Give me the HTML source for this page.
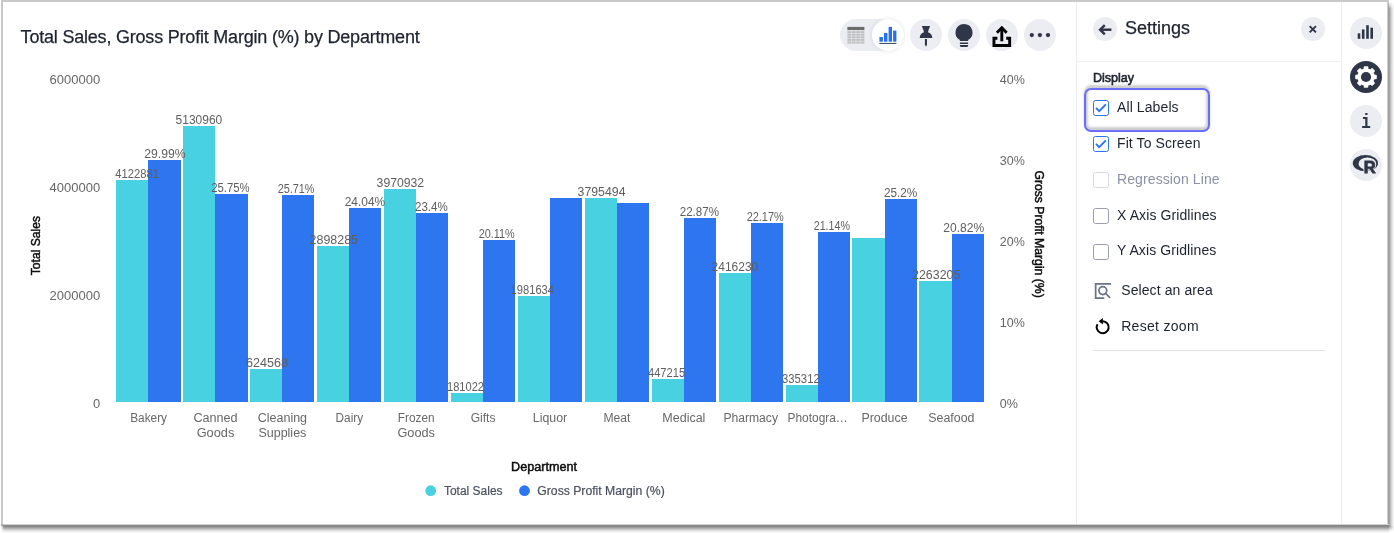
<!DOCTYPE html>
<html lang="en">
<head>
<meta charset="utf-8">
<title>Total Sales, Gross Profit Margin (%) by Department</title>
<style>
*{box-sizing:border-box;margin:0;padding:0}
html,body{width:1394px;height:533px;overflow:hidden;background:#fff}
body{font-family:"Liberation Sans",sans-serif;color:#1d232f;position:relative}
.frame{position:absolute;left:1px;top:0;width:1386px;height:524px;border-left:2px solid #c9c9c9;border-top:2px solid #c9c9c9;background:#fff}
.sh-r{position:absolute;left:1387px;top:0;width:7px;height:526px;background:linear-gradient(to right,#d0d0d0 0px 1px,#9c9c9c 1px 2px,#a6a6a6 2px 3px,#bebebe 3px 4px,#d6d6d6 4px 5px,#e8e8e8 5px 6px,#f6f6f6 6px 7px)}
.sh-rt{position:absolute;left:1389px;top:0;width:5px;height:9px;background:linear-gradient(to bottom,#fff 0,#fff 2px,rgba(255,255,255,0) 9px)}
.sh-rt2{position:absolute;left:1387px;top:0;width:2px;height:9px;background:linear-gradient(to bottom,#c9c9c9 0,#c9c9c9 2px,rgba(201,201,201,0) 8px)}
.sh-b{position:absolute;left:1px;top:524px;width:1388px;height:9px;background:linear-gradient(to bottom,#d2d2d2 0px 1px,#888888 1px 2px,#8a8a8a 2px 3px,#9e9e9e 3px 4px,#b4b4b4 4px 5px,#cacaca 5px 6px,#dedede 6px 7px,#eeeeee 7px 8px,#f8f8f8 8px 9px)}
.sh-bl{position:absolute;left:0;top:526px;width:4px;height:7px;background:linear-gradient(to right,#fff 0,#fff 1px,rgba(255,255,255,0) 4px)}
.sh-bl2{position:absolute;left:1px;top:524px;width:2px;height:2px;background:#a8a8a8}
.sh-c{position:absolute;left:1389px;top:526px;width:5px;height:7px;background:radial-gradient(circle at 0 0,#959595 0,#a4a4a4 1px,#bcbcbc 2px,#d4d4d4 3px,#e6e6e6 4px,#f4f4f4 5px,#fcfcfc 6px,#fff 7px)}
.abs{position:absolute}
.title{position:absolute;left:20.6px;top:24.8px;font-size:18px;line-height:24px;white-space:nowrap;color:#1d232f;letter-spacing:-0.205px;-webkit-text-stroke:0.25px #1d232f}
svg.chart{position:absolute;left:0;top:0;overflow:visible}
svg.chart text{font-family:"Liberation Sans",sans-serif}
.dl text{font-size:12px;fill:#5e5e5e}
.xl text{font-size:12.3px;fill:#686868}
.yl text{font-size:13px;fill:#666}
.yr text{font-size:12.5px;fill:#666}
text.at{font-size:12px;fill:#0c0c0c;stroke:#0c0c0c;stroke-width:.45px}
text.lg{font-size:12px;fill:#4a5160;stroke:#4a5160;stroke-width:.2px}
.btn{position:absolute;width:32px;height:32px;border-radius:50%;background:#ebedf2}
.btn svg{position:absolute;left:0;top:0}
.pill{position:absolute;left:840px;top:19px;width:64px;height:32px;border-radius:16px;background:#ebedf2}
.pill .knob{position:absolute;left:32px;top:0;width:32px;height:32px;border-radius:50%;background:#fff;box-shadow:0 0 4px rgba(80,90,120,.16)}
.vline{position:absolute;top:2px;width:1px;height:522px;background:#ebedf3}
.hline{position:absolute;height:1px;background:#edeff4}
.ptitle{position:absolute;left:1125px;top:16px;font-size:18px;line-height:24px;color:#1d232f;-webkit-text-stroke:0.25px #1d232f}
.sec{position:absolute;left:1093px;top:70px;font-size:12.5px;line-height:16px;color:#1d232f;-webkit-text-stroke:.6px #1d232f}
.cb{position:absolute;left:1093px;width:16px;height:16px;border:1px solid #2e75f0;border-radius:2.5px;background:#fff}
.cb.off{border-color:#9a9fab}
.cb.dis{border-color:#d6d9e2}
.cb svg{position:absolute;left:-1px;top:-1px}
.lab{position:absolute;left:1117px;font-size:14px;line-height:18px;color:#1d232f;white-space:nowrap;letter-spacing:0.1px}
.lab.dis{color:#8b92a4}
.focus{position:absolute;left:1084px;top:88px;width:126px;height:43.5px;border:2px solid #6b6ff7;border-radius:7px}
.focus-sh{position:absolute;left:1085px;top:86.200px;width:124px;height:43.500px;border:2.400px solid rgba(0,0,0,.38);border-radius:6px;filter:blur(1.400px)}
.ico{position:absolute}
.mono{position:absolute;font-family:"Liberation Mono",monospace;color:#2f3647}
</style>
</head>
<body>
<div class="frame"></div><div class="sh-r"></div><div class="sh-rt"></div><div class="sh-rt2"></div><div class="sh-b"></div><div class="sh-bl"></div><div class="sh-bl2"></div><div class="sh-c"></div>

<div class="title">Total Sales, Gross Profit Margin (%) by Department</div>

<!-- toolbar -->
<div class="pill">
  <svg class="abs" style="left:0;top:0" width="32" height="32" viewBox="0 0 32 32">
    <rect x="7.4" y="7.9" width="17" height="3.2" fill="#6b6b6b"/>
    <g fill="#bfbfc1">
      <rect x="7.4" y="12.1" width="17" height="2.050"/>
      <rect x="7.4" y="14.7" width="17" height="2.050"/>
      <rect x="7.4" y="17.3" width="17" height="2.050"/>
      <rect x="7.4" y="19.9" width="17" height="2.050"/>
      <rect x="7.4" y="22.5" width="17" height="2.050"/>
    </g>
    <g fill="#dfe0e5">
      <rect x="11.2" y="11.6" width="0.9" height="13"/>
      <rect x="15.5" y="11.6" width="0.9" height="13"/>
      <rect x="19.8" y="11.6" width="0.9" height="13"/>
    </g>
  </svg>
  <div class="knob">
    <svg class="abs" style="left:0;top:0" width="32" height="32" viewBox="0 0 32 32">
      <rect x="7.4" y="18" width="3.5" height="4.7" fill="#2770ef"/>
      <rect x="12" y="13.9" width="3.4" height="8.8" fill="#2770ef"/>
      <rect x="16.6" y="7.9" width="3.4" height="14.8" fill="#2770ef"/>
      <rect x="21.1" y="11.6" width="3.3" height="11.1" fill="#2770ef"/>
      <rect x="7.4" y="23.9" width="17" height="1.1" fill="#4a5468"/>
    </svg>
  </div>
</div>

<div class="btn" style="left:910px;top:19px">
  <svg width="32" height="32" viewBox="0 0 32 32" fill="#2f3647">
    <path d="M11.8 7.1h8.3l-1.9 5 0 1.3c2.300 .4 3.900 2.300 4.100 5.500H9.700c.2-3.200 1.800-5.100 4.100-5.500l0-1.300z"/>
    <path d="M14.900 20h2.100v5.400l-1.050 2.300-1.050-2.300z"/>
  </svg>
</div>
<div class="btn" style="left:948px;top:19px">
  <svg width="32" height="32" viewBox="0 0 32 32" fill="#2f3647">
    <path d="M15.900 5a8.600 8.600 0 0 1 4.300 16.050V22h-8.400v-.95A8.600 8.600 0 0 1 15.900 5z"/>
    <rect x="11.900" y="23.500" width="8.200" height="1.500"/>
    <path d="M11.900 26h8.200v.4a1.600 1.600 0 0 1-1.600 1.600h-5a1.600 1.600 0 0 1-1.600-1.600z"/>
  </svg>
</div>
<div class="btn" style="left:986px;top:19px">
  <svg width="32" height="32" viewBox="0 0 32 32" fill="none" stroke="#000" stroke-width="2.9">
    <path d="M11.400 19.250H7.950v7.200h15.700v-7.200H20.200"/>
    <path d="M15.800 22.300V8.600"/>
    <path d="M10.900 13.700l4.900-4.900 4.900 4.900" stroke-linejoin="miter"/>
  </svg>
</div>
<div class="btn" style="left:1024px;top:19px">
  <svg width="32" height="32" viewBox="0 0 32 32" fill="#2f3647">
    <circle cx="7.800" cy="16.100" r="2.150"/><circle cx="15.900" cy="16.100" r="2.150"/><circle cx="24" cy="16.100" r="2.150"/>
  </svg>
</div>

<svg class="chart" width="1076" height="524" viewBox="0 0 1076 524">
<g shape-rendering="crispEdges"><rect x="116" y="180.0" width="32" height="221.8" fill="#48d1e0"/><rect x="148" y="160.0" width="33" height="241.8" fill="#2e75f0"/><rect x="183" y="126.0" width="32" height="275.8" fill="#48d1e0"/><rect x="215" y="194.0" width="33" height="207.8" fill="#2e75f0"/><rect x="250" y="369.0" width="32" height="32.8" fill="#48d1e0"/><rect x="282" y="195.0" width="32" height="206.8" fill="#2e75f0"/><rect x="317" y="246.0" width="32" height="155.8" fill="#48d1e0"/><rect x="349" y="208.0" width="32" height="193.8" fill="#2e75f0"/><rect x="384" y="189.0" width="32" height="212.8" fill="#48d1e0"/><rect x="416" y="213.0" width="32" height="188.8" fill="#2e75f0"/><rect x="451" y="393.0" width="32" height="8.8" fill="#48d1e0"/><rect x="483" y="240.0" width="32" height="161.8" fill="#2e75f0"/><rect x="518" y="296.0" width="32" height="105.8" fill="#48d1e0"/><rect x="550" y="198.0" width="32" height="203.8" fill="#2e75f0"/><rect x="585" y="198.0" width="32" height="203.8" fill="#48d1e0"/><rect x="617" y="203.0" width="32" height="198.8" fill="#2e75f0"/><rect x="652" y="379.0" width="32" height="22.8" fill="#48d1e0"/><rect x="684" y="218.0" width="32" height="183.8" fill="#2e75f0"/><rect x="719" y="273.0" width="32" height="128.8" fill="#48d1e0"/><rect x="751" y="223.0" width="32" height="178.8" fill="#2e75f0"/><rect x="786" y="385.0" width="32" height="16.8" fill="#48d1e0"/><rect x="818" y="232.0" width="32" height="169.8" fill="#2e75f0"/><rect x="852" y="238.0" width="33" height="163.8" fill="#48d1e0"/><rect x="885" y="199.0" width="32" height="202.8" fill="#2e75f0"/><rect x="919" y="281.0" width="33" height="120.8" fill="#48d1e0"/><rect x="952" y="234.0" width="32" height="167.8" fill="#2e75f0"/></g>
<g class="dl" text-anchor="start"><text x="115.3" y="177.8" textLength="43.7" lengthAdjust="spacingAndGlyphs">4122881</text><text x="144.2" y="157.8" textLength="41.4" lengthAdjust="spacingAndGlyphs">29.99%</text><text x="175.6" y="123.8" textLength="46.7" lengthAdjust="spacingAndGlyphs">5130960</text><text x="211.2" y="191.8" textLength="38.5" lengthAdjust="spacingAndGlyphs">25.75%</text><text x="246.0" y="366.8" textLength="42.1" lengthAdjust="spacingAndGlyphs">624568</text><text x="277.7" y="192.8" textLength="36.8" lengthAdjust="spacingAndGlyphs">25.71%</text><text x="309.6" y="243.8" textLength="48.4" lengthAdjust="spacingAndGlyphs">2898285</text><text x="344.7" y="205.8" textLength="40.5" lengthAdjust="spacingAndGlyphs">24.04%</text><text x="376.6" y="186.8" textLength="47.5" lengthAdjust="spacingAndGlyphs">3970932</text><text x="415.0" y="210.8" textLength="32.7" lengthAdjust="spacingAndGlyphs">23.4%</text><text x="447.0" y="390.8" textLength="37" lengthAdjust="spacingAndGlyphs">181022</text><text x="478.7" y="237.8" textLength="36.1" lengthAdjust="spacingAndGlyphs">20.11%</text><text x="510.6" y="293.8" textLength="43.4" lengthAdjust="spacingAndGlyphs">1981634</text><text x="577.6" y="195.8" textLength="47.9" lengthAdjust="spacingAndGlyphs">3795494</text><text x="648.0" y="376.8" textLength="37.1" lengthAdjust="spacingAndGlyphs">447215</text><text x="679.7" y="215.8" textLength="39.3" lengthAdjust="spacingAndGlyphs">22.87%</text><text x="711.6" y="270.8" textLength="46.6" lengthAdjust="spacingAndGlyphs">2416230</text><text x="746.7" y="220.8" textLength="37" lengthAdjust="spacingAndGlyphs">22.17%</text><text x="782.0" y="382.8" textLength="37.7" lengthAdjust="spacingAndGlyphs">335312</text><text x="813.7" y="229.8" textLength="36.3" lengthAdjust="spacingAndGlyphs">21.14%</text><text x="884.0" y="196.8" textLength="33.3" lengthAdjust="spacingAndGlyphs">25.2%</text><text x="912.1" y="278.8" textLength="48.2" lengthAdjust="spacingAndGlyphs">2263205</text><text x="943.3" y="231.8" textLength="40.9" lengthAdjust="spacingAndGlyphs">20.82%</text></g>
<g class="xl" text-anchor="start"><text x="130.2" y="421.6" textLength="36.8" lengthAdjust="spacingAndGlyphs">Bakery</text><text x="193.4" y="421.6" textLength="44.2" lengthAdjust="spacingAndGlyphs">Canned</text><text x="196.7" y="437.1" textLength="37.6" lengthAdjust="spacingAndGlyphs">Goods</text><text x="257.7" y="421.6" textLength="49.4" lengthAdjust="spacingAndGlyphs">Cleaning</text><text x="258.5" y="437.1" textLength="47.8" lengthAdjust="spacingAndGlyphs">Supplies</text><text x="335.6" y="421.6" textLength="27.5" lengthAdjust="spacingAndGlyphs">Dairy</text><text x="397.8" y="421.6" textLength="36.8" lengthAdjust="spacingAndGlyphs">Frozen</text><text x="397.4" y="437.1" textLength="37.6" lengthAdjust="spacingAndGlyphs">Goods</text><text x="470.7" y="421.6" textLength="24.8" lengthAdjust="spacingAndGlyphs">Gifts</text><text x="532.8" y="421.6" textLength="34.4" lengthAdjust="spacingAndGlyphs">Liquor</text><text x="603.4" y="421.6" textLength="27" lengthAdjust="spacingAndGlyphs">Meat</text><text x="662.3" y="421.6" textLength="43.1" lengthAdjust="spacingAndGlyphs">Medical</text><text x="723.4" y="421.6" textLength="54.6" lengthAdjust="spacingAndGlyphs">Pharmacy</text><text x="787.5" y="421.6" textLength="60.3" lengthAdjust="spacingAndGlyphs">Photogra…</text><text x="861.4" y="421.6" textLength="46.2" lengthAdjust="spacingAndGlyphs">Produce</text><text x="928.3" y="421.6" textLength="46.2" lengthAdjust="spacingAndGlyphs">Seafood</text></g>
<g class="yl"><text x="100.2" y="408.2" text-anchor="end">0</text><text x="100.2" y="300.2" text-anchor="end">2000000</text><text x="100.2" y="192.2" text-anchor="end">4000000</text><text x="100.2" y="84.2" text-anchor="end">6000000</text></g>
<g class="yr"><text x="999.8" y="408.1" text-anchor="start">0%</text><text x="999.8" y="327.1" text-anchor="start">10%</text><text x="999.8" y="246.1" text-anchor="start">20%</text><text x="999.8" y="165.1" text-anchor="start">30%</text><text x="999.8" y="84.1" text-anchor="start">40%</text></g>
<text class="at" x="511.1" y="470.7" textLength="65.9" lengthAdjust="spacingAndGlyphs">Department</text>
<text class="at" transform="translate(40.3 275.2) rotate(-90)" textLength="59.2" lengthAdjust="spacingAndGlyphs">Total Sales</text>
<text class="at" transform="translate(1034.6 170.4) rotate(90)" textLength="127.3" lengthAdjust="spacingAndGlyphs">Gross Profit Margin (%)</text>
<circle cx="430.7" cy="490.7" r="5.4" fill="#48d1e0"/>
<circle cx="524.5" cy="490.7" r="5.4" fill="#2e75f0"/>
<text class="lg" x="443.9" y="494.6" textLength="58.7" lengthAdjust="spacingAndGlyphs">Total Sales</text>
<text class="lg" x="537.3" y="494.6" textLength="127.4" lengthAdjust="spacingAndGlyphs">Gross Profit Margin (%)</text>
</svg>

<!-- settings panel -->
<div class="vline" style="left:1076px"></div>
<div class="vline" style="left:1341px"></div>
<div class="hline" style="left:1077px;top:61px;width:264px"></div>

<div class="btn" style="left:1093px;top:17px;width:24px;height:24px">
  <svg width="24" height="24" viewBox="0 0 24 24" fill="none" stroke="#2f3647" stroke-width="2.500" stroke-linecap="butt">
    <path d="M18.400 12.700H7.600"/>
    <path d="M11.800 8.100l-4.700 4.600 4.700 4.600" stroke-linejoin="miter"/>
  </svg>
</div>
<div class="ptitle">Settings</div>
<div class="btn" style="left:1301px;top:17px;width:24px;height:24px">
  <svg width="24" height="24" viewBox="0 0 24 24" fill="none" stroke="#2f3647" stroke-width="1.900">
    <path d="M8.650 9.050l6.300 6.300M14.950 9.050l-6.300 6.300"/>
  </svg>
</div>

<div class="sec">Display</div>

<div class="focus-sh"></div>
<div class="focus"></div>
<div class="cb" style="top:100px"><svg width="16" height="16" viewBox="0 0 16 16" fill="none" stroke="#2e75f0" stroke-width="2"><path d="M3 7.900l3.200 3.200 6.700-6.700"/></svg></div>
<div class="lab" style="top:97.5px">All Labels</div>
<div class="cb" style="top:136px"><svg width="16" height="16" viewBox="0 0 16 16" fill="none" stroke="#2e75f0" stroke-width="2"><path d="M3 7.900l3.200 3.200 6.700-6.700"/></svg></div>
<div class="lab" style="top:133.5px">Fit To Screen</div>
<div class="cb dis" style="top:172px"></div>
<div class="lab dis" style="top:169.5px">Regression Line</div>
<div class="cb off" style="top:208px"></div>
<div class="lab" style="top:205.5px">X Axis Gridlines</div>
<div class="cb off" style="top:244px"></div>
<div class="lab" style="top:241.3px">Y Axis Gridlines</div>

<svg class="ico" style="left:1093px;top:281px" width="20" height="20" viewBox="0 0 20 20" fill="none" stroke="#6b7386" stroke-width="1.750">
  <path d="M18 2.750H2.650v14.250H11.300"/>
  <circle cx="9.800" cy="9.600" r="3.900"/>
  <path d="M12.700 12.500l4.400 4.400"/>
</svg>
<div class="lab" style="left:1121.200px;top:280.8px">Select an area</div>

<svg class="ico" style="left:1093px;top:316.800px" width="20" height="20" viewBox="0 0 20 20" fill="none" stroke="#000" stroke-width="2">
  <path d="M9.700 4.200A6 6 0 1 1 4.500 7.200"/>
  <path d="M9.900 .9v6.600L5.700 4.200z" fill="#000" stroke="none"/>
</svg>
<div class="lab" style="left:1121.200px;top:316.8px;letter-spacing:.3px">Reset zoom</div>

<div class="hline" style="left:1093px;top:350px;width:232px;background:#dfe2eb"></div>

<!-- right rail -->
<div class="btn" style="left:1350px;top:17px">
  <svg width="32" height="32" viewBox="0 0 32 32" fill="#2f3647">
    <rect x="7.700" y="16.300" width="2.600" height="5.500"/>
    <rect x="11.900" y="12.400" width="2.600" height="9.400"/>
    <rect x="16.200" y="8.200" width="2.600" height="13.600"/>
    <rect x="20.400" y="10.700" width="2.600" height="11.100"/>
  </svg>
</div>
<div class="btn" style="left:1350px;top:61px;background:#2f3647">
  <svg width="32" height="32" viewBox="0 0 32 32">
    <g transform="translate(16 16)" fill="#fff">
      <circle r="8.700"/>
      <g id="teeth">
        <rect x="-2.300" y="-10.800" width="4.600" height="21.600" rx="1"/>
        <rect x="-2.300" y="-10.800" width="4.600" height="21.600" rx="1" transform="rotate(45)"/>
        <rect x="-2.300" y="-10.800" width="4.600" height="21.600" rx="1" transform="rotate(90)"/>
        <rect x="-2.300" y="-10.800" width="4.600" height="21.600" rx="1" transform="rotate(135)"/>
      </g>
      <circle r="5.100" fill="#2f3647"/>
    </g>
  </svg>
</div>
<div class="btn" style="left:1350px;top:105px"></div>
<div class="mono" style="left:1350px;top:107.300px;width:32px;height:32px;text-align:center;font-size:20.500px;line-height:32px;font-weight:bold;transform:scaleX(.78)">i</div>
<div class="btn" style="left:1350px;top:149px">
  <svg width="32" height="32" viewBox="0 0 32 32">
    <ellipse cx="15.400" cy="14.200" rx="12.600" ry="8.100" fill="#2f3647"/>
    <ellipse cx="17.400" cy="14.700" rx="8.900" ry="6.200" fill="#ebedf2"/>
    <text x="19.600" y="23.600" text-anchor="middle" font-family="Liberation Sans, sans-serif" font-weight="bold" font-size="16.500" fill="#ebedf2" stroke="#ebedf2" stroke-width="2.600" stroke-linejoin="round">R</text><text x="19.600" y="23.600" text-anchor="middle" font-family="Liberation Sans, sans-serif" font-weight="bold" font-size="16.500" fill="#2f3647" stroke="#2f3647" stroke-width=".900" stroke-linejoin="miter">R</text>
  </svg>
</div>
</body>
</html>
